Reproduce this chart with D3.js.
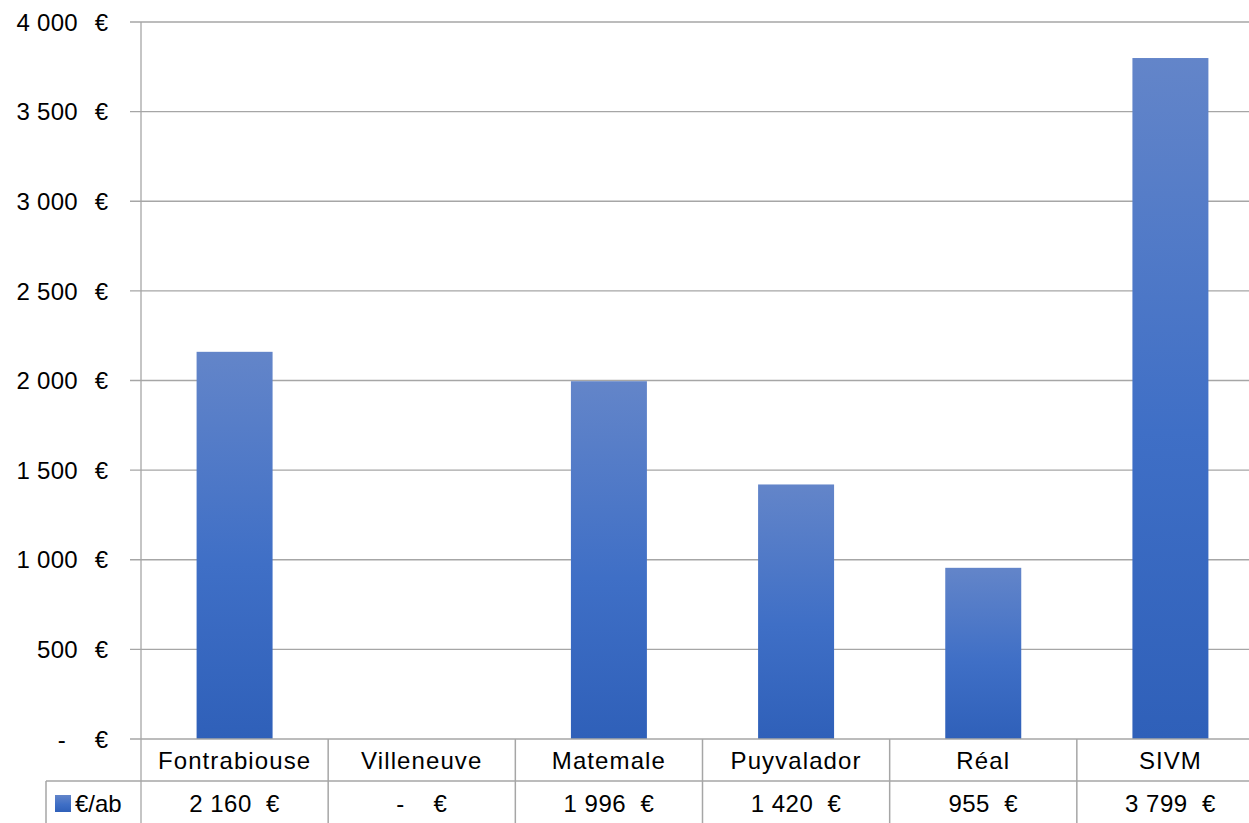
<!DOCTYPE html>
<html><head><meta charset="utf-8">
<script src="https://cdn.jsdelivr.net/npm/d3@7"></script>
<style>
html,body{margin:0;padding:0;background:#fff;overflow:hidden}
text{font-family:"Liberation Sans",Arial,sans-serif;fill:#000;white-space:pre}
</style></head>
<body><svg id="c" width="1249" height="823"></svg>
<script>
const categories = ["Fontrabiouse","Villeneuve","Matemale","Puyvalador","Réal","SIVM"];
const values = [2160, 0, 1996, 1420, 955, 3799];
const valueLabels = ["2 160  €","-    €","1 996  €","1 420  €","955  €","3 799  €"];
const yTicks = [0,500,1000,1500,2000,2500,3000,3500,4000];
const yTickNumbers = ["-","500","1 000","1 500","2 000","2 500","3 000","3 500","4 000"];
const seriesName = "€/ab";

(function(){
const svg = d3.select("#c");
const pl = 141, pr = 1264, pt = 22, pb = 739;
const rowH = 42;
const grid = "#a6a6a6";
const fs = 24;

const defs = svg.append("defs");
const g = defs.append("linearGradient").attr("id","bg").attr("x1",0).attr("y1",0).attr("x2",0).attr("y2",1);
g.append("stop").attr("offset","0%").attr("stop-color","#6385c9");
g.append("stop").attr("offset","55%").attr("stop-color","#3f6fc6");
g.append("stop").attr("offset","100%").attr("stop-color","#2f60b9");

const x = d3.scaleBand().domain(categories).range([pl,pr]).padding(0);
const y = d3.scaleLinear().domain([0,4000]).range([pb,pt]);

svg.append("g").selectAll("line").data(yTicks.filter(d=>d>0)).join("line")
  .attr("x1",pl-11).attr("x2",1249).attr("y1",d=>y(d)).attr("y2",d=>y(d))
  .attr("stroke",grid).attr("stroke-width",1.3);

svg.append("line").attr("x1",pl).attr("x2",pl).attr("y1",pt).attr("y2",823)
  .attr("stroke",grid).attr("stroke-width",1.3);

const yl = svg.append("g").selectAll("g").data(yTicks).join("g");
yl.append("text").attr("x",(d,i)=>i===0?66:78).attr("y",d=>y(d)).attr("dy","0.36em")
  .attr("text-anchor","end").attr("font-size",fs).attr("letter-spacing","0.3px").text((d,i)=>yTickNumbers[i]);
yl.append("text").attr("x",108).attr("y",d=>y(d)).attr("dy","0.36em")
  .attr("text-anchor","end").attr("font-size",fs).text("€");

const bw = x.bandwidth()*0.406;
svg.append("g").selectAll("rect").data(values).join("rect")
  .attr("x",(d,i)=>x(categories[i])+x.bandwidth()/2-bw/2)
  .attr("width",bw)
  .attr("y",d=>y(d)).attr("height",d=>pb-y(d))
  .attr("fill","url(#bg)");

const t = svg.append("g");
t.append("line").attr("x1",pl-11).attr("x2",1249).attr("y1",pb).attr("y2",pb).attr("stroke",grid).attr("stroke-width",1.5);
t.append("line").attr("x1",46).attr("x2",1249).attr("y1",pb+rowH).attr("y2",pb+rowH).attr("stroke",grid).attr("stroke-width",1.5);
t.append("line").attr("x1",46).attr("x2",46).attr("y1",pb+rowH).attr("y2",823).attr("stroke",grid).attr("stroke-width",1.5);
t.selectAll("line.v").data(categories.slice(1)).join("line").attr("class","v")
  .attr("x1",d=>x(d)).attr("x2",d=>x(d)).attr("y1",pb).attr("y2",823)
  .attr("stroke",grid).attr("stroke-width",1.5);
t.selectAll("text.cat").data(categories).join("text").attr("class","cat")
  .attr("x",d=>x(d)+x.bandwidth()/2).attr("y",pb+rowH/2).attr("dy","0.36em")
  .attr("text-anchor","middle").attr("font-size",fs).attr("letter-spacing","1.1px").text(d=>d);
t.selectAll("text.val").data(valueLabels).join("text").attr("class","val")
  .attr("x",(d,i)=>x(categories[i])+x.bandwidth()/2).attr("y",pb+rowH+rowH/2+1).attr("dy","0.36em")
  .attr("text-anchor","middle").attr("font-size",fs).attr("letter-spacing","0.5px").text(d=>d);
t.append("rect").attr("x",55).attr("y",795).attr("width",16).attr("height",17).attr("fill","url(#bg)");
t.append("text").attr("x",75).attr("y",803).attr("dy","0.36em").attr("font-size",fs).text(seriesName);
})();
</script></body></html>
